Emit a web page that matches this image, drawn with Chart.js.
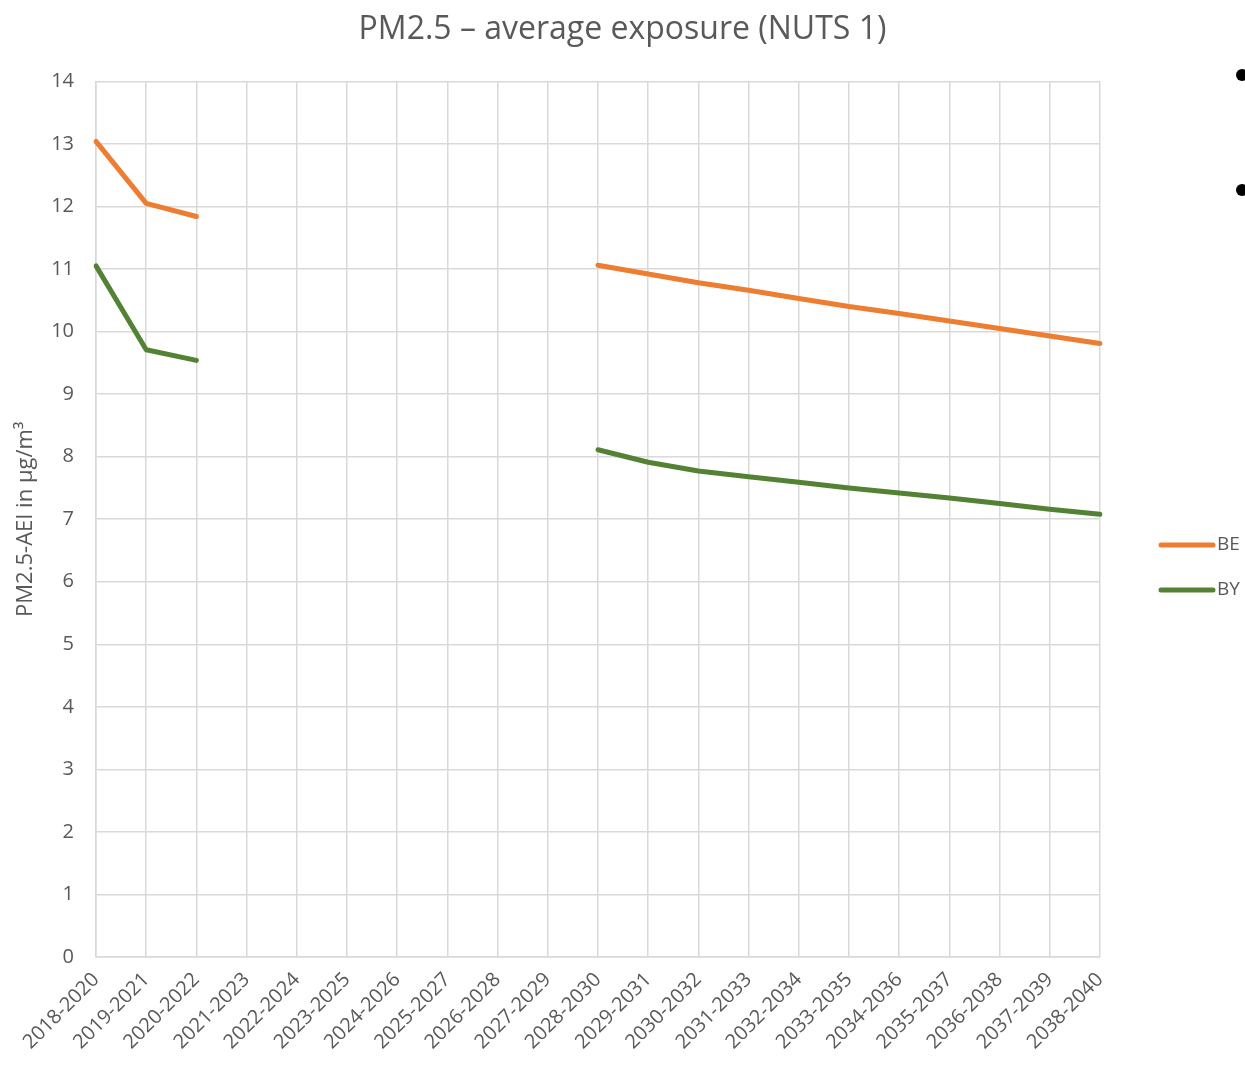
<!DOCTYPE html>
<html>
<head>
<meta charset="utf-8">
<script src="https://cdn.jsdelivr.net/npm/chart.js@4.4.1/dist/chart.umd.min.js"></script>
<style>
  html, body { margin: 0; padding: 0; background: #fff; }
  #wrap { width: 1245px; height: 1066px; }
</style>
</head>
<body>
<div id="wrap"><canvas id="chartPM"></canvas></div>
<script>
var periods = ['2018-2020', '2019-2021', '2020-2022', '2021-2023', '2022-2024', '2023-2025', '2024-2026',
  '2025-2027', '2026-2028', '2027-2029', '2028-2030', '2029-2031', '2030-2032', '2031-2033',
  '2032-2034', '2033-2035', '2034-2036', '2035-2037', '2036-2038', '2037-2039', '2038-2040'];

var valuesBE = [13.04, 12.05, 11.84, null, null, null, null, null, null, null,
  11.06, 10.92, 10.78, 10.66, 10.53, 10.40, 10.29, 10.17, 10.05, 9.93, 9.81];
var valuesBY = [11.05, 9.71, 9.54, null, null, null, null, null, null, null,
  8.11, 7.91, 7.77, 7.68, 7.59, 7.50, 7.42, 7.34, 7.25, 7.16, 7.08];

var seriesNames = ['BE', 'BY'];
var seriesColors = ['#ED7D31', '#548235'];

var textColor = '#595959';
var gridColor = '#d9d9d9';
var fontName = "'Open Sans', sans-serif";

// legend on the right + the two slide bullets
var sideLegend = {
  id: 'sideLegend',
  afterDraw: function(chart) {
    var ctx = chart.ctx;
    ctx.save();
    var rows = [545, 590];
    for (var i = 0; i < seriesNames.length; i++) {
      ctx.strokeStyle = seriesColors[i];
      ctx.lineWidth = 5;
      ctx.lineCap = 'round';
      ctx.beginPath();
      ctx.moveTo(1161, rows[i]);
      ctx.lineTo(1213, rows[i]);
      ctx.stroke();
      ctx.fillStyle = textColor;
      ctx.font = "19px " + fontName;
      ctx.textBaseline = 'middle';
      ctx.textAlign = 'left';
      ctx.fillText(seriesNames[i], 1217, rows[i]);
    }
    ctx.fillStyle = '#000';
    [75, 190].forEach(function(y) {
      ctx.beginPath();
      ctx.arc(1242, y, 6, 0, Math.PI * 2);
      ctx.fill();
    });
    ctx.restore();
  }
};

var ctxPM = document.getElementById('chartPM').getContext('2d');
var chartPM = new Chart(ctxPM, {
  type: 'line',
  data: {
    labels: periods,
    datasets: [{
      label: seriesNames[0],
      data: valuesBE,
      borderColor: seriesColors[0],
      backgroundColor: seriesColors[0],
      borderWidth: 5,
      pointRadius: 0,
      borderCapStyle: 'round',
      borderJoinStyle: 'round',
      spanGaps: false
    }, {
      label: seriesNames[1],
      data: valuesBY,
      borderColor: seriesColors[1],
      backgroundColor: seriesColors[1],
      borderWidth: 5,
      pointRadius: 0,
      borderCapStyle: 'round',
      borderJoinStyle: 'round',
      spanGaps: false
    }]
  },
  options: {
    responsive: true,
    maintainAspectRatio: false,
    animation: false,
    layout: { padding: 0 },
    plugins: {
      legend: { display: false },
      tooltip: { enabled: false },
      title: {
        display: true,
        text: 'PM2.5 – average exposure (NUTS 1)',
        color: textColor,
        font: { family: fontName, size: 32, weight: 'normal', lineHeight: 1.2 },
        padding: { top: 11, bottom: 32 }
      }
    },
    scales: {
      x: {
        offset: false,
        grid: { color: gridColor, lineWidth: 1.5, drawTicks: false },
        border: { color: gridColor, width: 1.5 },
        ticks: {
          color: textColor,
          font: { family: fontName, size: 20 },
          maxRotation: 45,
          minRotation: 45,
          autoSkip: false,
          padding: 11
        },
        afterFit: function(scale) { scale.height = 109; }
      },
      y: {
        min: 0,
        max: 14,
        grid: { color: gridColor, lineWidth: 1.5, drawTicks: false },
        border: { color: gridColor, width: 1.5 },
        ticks: {
          stepSize: 1,
          color: textColor,
          font: { family: fontName, size: 20 },
          padding: 22
        },
        title: {
          display: true,
          text: 'PM2.5-AEI in µg/m³',
          color: textColor,
          font: { family: fontName, size: 22 },
          padding: { top: 13, bottom: 0 }
        },
        afterFit: function(scale) { scale.width = 96; }
      },
      yRight: {
        position: 'right',
        display: true,
        grid: { display: false, drawTicks: false },
        border: { display: false },
        ticks: { display: false },
        afterFit: function(scale) { scale.width = 145; }
      }
    }
  },
  plugins: [sideLegend]
});
</script>
</body>
</html>
